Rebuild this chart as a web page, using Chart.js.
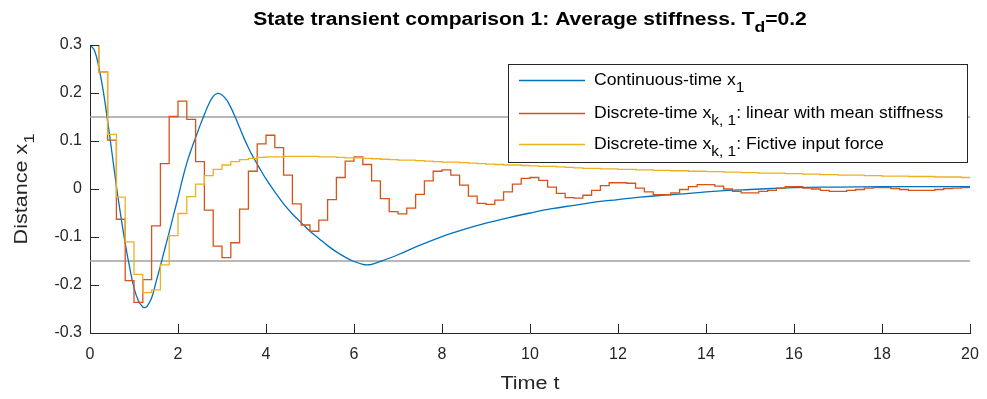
<!DOCTYPE html>
<html>
<head>
<meta charset="utf-8">
<script src="https://cdn.jsdelivr.net/npm/chart.js@4.4.0/dist/chart.umd.min.js"></script>
<style>
  html, body { margin: 0; padding: 0; background: #fff; overflow: hidden; }
  canvas { display: block; }
</style>
</head>
<body>
<canvas id="stateChart" width="987" height="399"></canvas>
<script>
// Sampling period of the discrete models
const Td = 0.2;

// Continuous-time response x1(t)
const contTime = [0, 0.1, 0.2, 0.3, 0.4, 0.5, 0.6, 0.7, 0.8, 0.9, 1.0, 1.1, 1.2, 1.25, 1.3, 1.4,
  1.5, 1.6, 1.7, 1.8, 1.9, 2.0, 2.1, 2.2, 2.3, 2.4, 2.5, 2.6, 2.7, 2.8, 2.9, 3.0, 3.1, 3.2, 3.3,
  3.4, 3.5, 3.6, 3.7, 3.8, 3.9, 4.0, 4.2, 4.4, 4.6, 4.8, 5.0, 5.2, 5.4, 5.6, 5.8, 6.0, 6.2, 6.3, 6.4, 6.6,
  7.0, 7.5, 8.0, 8.5, 9.0, 9.5, 10.0, 10.5, 11.0, 11.5, 12.0, 12.5, 13.0, 13.5, 14.0, 14.5, 15.0,
  15.5, 16.0, 17.0, 18.0, 19.0, 20.0];
const contX = [0.300, 0.289, 0.254, 0.205, 0.142, 0.075, 0.006, -0.056, -0.113, -0.163, -0.206,
  -0.233, -0.246, -0.247, -0.244, -0.227, -0.194, -0.160, -0.125, -0.090, -0.054, -0.018, 0.020,
  0.054, 0.082, 0.107, 0.132, 0.155, 0.177, 0.193, 0.199, 0.196, 0.186, 0.170, 0.150, 0.128,
  0.106, 0.086, 0.068, 0.052, 0.036, 0.021, -0.006, -0.031, -0.052, -0.070, -0.088, -0.103, -0.118, -0.131,
  -0.142, -0.151, -0.157, -0.158, -0.157, -0.151, -0.137, -0.117, -0.099, -0.084, -0.071, -0.060,
  -0.050, -0.041, -0.034, -0.027, -0.022, -0.017, -0.013, -0.010, -0.006, -0.003, -0.001, 0.001,
  0.003, 0.004, 0.005, 0.005, 0.005];

// Discrete-time x_{k,1}, linear model with mean stiffness (one value per sample k)
const meanStiffX = [0.300, 0.244, 0.102, -0.063, -0.191, -0.236, -0.189, -0.077, 0.053, 0.151,
  0.183, 0.145, 0.057, -0.044, -0.119, -0.143, -0.112, -0.042, 0.037, 0.094,
  0.112, 0.086, 0.029, -0.031, -0.075, -0.088, -0.065, -0.022, 0.024, 0.058,
  0.067, 0.051, 0.017, -0.020, -0.047, -0.052, -0.040, -0.011, 0.017, 0.037,
  0.040, 0.029, 0.008, -0.015, -0.030, -0.032, -0.023, -0.006, 0.010, 0.022,
  0.024, 0.018, 0.004, -0.009, -0.018, -0.019, -0.013, -0.003, 0.007, 0.013,
  0.013, 0.012, 0.002, -0.006, -0.012, -0.012, -0.008, -0.001, 0.005, 0.009,
  0.009, 0.006, 0.000, -0.005, -0.008, -0.008, -0.005, -0.003, 0.002, 0.005,
  0.005, 0.002, 0.000, -0.003, -0.005, -0.005, -0.003, -0.001, 0.002, 0.003,
  0.003, 0.001, -0.001, -0.003, -0.003, -0.003, -0.001, 0.001, 0.002, 0.003,
  0.003];

// Discrete-time x_{k,1}, fictive input force model
const fictiveX = [0.300, 0.244, 0.114, -0.017, -0.110, -0.178, -0.216, -0.210, -0.158, -0.097,
  -0.051, -0.016, 0.010, 0.028, 0.041, 0.050, 0.057, 0.061, 0.064, 0.066,
  0.067, 0.067, 0.068, 0.068, 0.068, 0.068, 0.067, 0.067, 0.066, 0.065,
  0.065, 0.064, 0.063, 0.062, 0.061, 0.060, 0.060, 0.059, 0.058, 0.057,
  0.056, 0.056, 0.055, 0.054, 0.053, 0.052, 0.051, 0.050, 0.050, 0.049,
  0.048, 0.047, 0.047, 0.046, 0.045, 0.044, 0.043, 0.043, 0.042, 0.042,
  0.041, 0.041, 0.040, 0.040, 0.039, 0.039, 0.038, 0.038, 0.037, 0.037,
  0.036, 0.036, 0.035, 0.035, 0.034, 0.034, 0.033, 0.033, 0.033, 0.032,
  0.032, 0.031, 0.031, 0.030, 0.030, 0.029, 0.029, 0.029, 0.028, 0.028,
  0.027, 0.027, 0.027, 0.026, 0.026, 0.026, 0.025, 0.025, 0.025, 0.024,
  0.024];

// Allowed band
const bandLevels = [0.15, -0.15];

const xTicks = [0, 2, 4, 6, 8, 10, 12, 14, 16, 18, 20];
const yTicks = [-0.3, -0.2, -0.1, 0, 0.1, 0.2, 0.3];

const FONT = "'Liberation Sans', Arial, Helvetica, sans-serif";
const AXIS_COLOR = '#262626';
const C_BLUE = '#0072BD';
const C_RED = '#D95319';
const C_YELLOW = '#EDB120';
const PLOT_RIGHT = 970;

function toPoints(times, values) {
  return values.map((v, i) => ({ x: times[i], y: v }));
}
const sampleTimes = meanStiffX.map((_, k) => +(k * Td).toFixed(1));

// draws text with optional subscripts, parts = [[text, isSub], ...]
// sx stretches the glyphs horizontally
function drawRich(ctx, parts, x, y, size, align, bold, sx) {
  const weight = bold ? 'bold ' : '';
  const subSize = Math.round(size * 0.85);
  let total = 0;
  parts.forEach(([t, sub]) => {
    ctx.font = weight + (sub ? subSize : size) + 'px ' + FONT;
    total += ctx.measureText(t).width;
  });
  ctx.save();
  ctx.translate(x, y);
  ctx.scale(sx, 1);
  let cx = align === 'center' ? -total / 2 : 0;
  ctx.textAlign = 'left';
  ctx.textBaseline = 'alphabetic';
  parts.forEach(([t, sub]) => {
    ctx.font = weight + (sub ? subSize : size) + 'px ' + FONT;
    ctx.fillText(t, cx, sub ? 7 : 0);
    cx += ctx.measureText(t).width;
  });
  ctx.restore();
}

const decorPlugin = {
  id: 'decor',
  // pin the right edge of the plot area
  afterLayout(chart) {
    const s = chart.scales.x;
    chart.chartArea.right = PLOT_RIGHT;
    chart.chartArea.width = PLOT_RIGHT - chart.chartArea.left;
    s.right = PLOT_RIGHT;
    s.width = PLOT_RIGHT - s.left;
    s.configure();
  },
  beforeDraw(chart) {
    const ctx = chart.ctx;
    ctx.save();
    ctx.fillStyle = '#fff';
    ctx.fillRect(0, 0, chart.width, chart.height);
    ctx.restore();
  },
  afterDraw(chart) {
    const { ctx, chartArea: a, scales } = chart;
    ctx.save();
    // inward tick marks
    ctx.strokeStyle = AXIS_COLOR;
    ctx.lineWidth = 1;
    ctx.beginPath();
    xTicks.forEach(v => {
      const px = Math.round(scales.x.getPixelForValue(v)) + 0.5;
      ctx.moveTo(px, a.bottom);
      ctx.lineTo(px, a.bottom - 9);
    });
    yTicks.forEach(v => {
      const py = Math.round(scales.y.getPixelForValue(v)) + 0.5;
      ctx.moveTo(a.left, py);
      ctx.lineTo(a.left + 9, py);
    });
    ctx.stroke();

    // title and axis labels
    ctx.fillStyle = '#000';
    drawRich(ctx, [['State transient comparison 1: Average stiffness. T', false], ['d', true], ['=0.2', false]],
      530, 25, 18, 'center', true, 1.17);
    ctx.fillStyle = AXIS_COLOR;
    drawRich(ctx, [['Time t', false]], 530, 389, 18, 'center', false, 1.2);
    ctx.save();
    ctx.translate(27, 189);
    ctx.rotate(-Math.PI / 2);
    drawRich(ctx, [['Distance x', false], ['1', true]], 0, 0, 18, 'center', false, 1.2);
    ctx.restore();

    // legend box
    const box = { l: 508.5, t: 64.5, r: 967.5, b: 162.5 };
    ctx.fillStyle = '#fff';
    ctx.fillRect(box.l, box.t, box.r - box.l, box.b - box.t);
    ctx.strokeStyle = AXIS_COLOR;
    ctx.lineWidth = 1;
    ctx.strokeRect(box.l, box.t, box.r - box.l, box.b - box.t);
    const rows = [
      { c: C_BLUE, y: 80, parts: [['Continuous-time x', false], ['1', true]] },
      { c: C_RED, y: 113, parts: [['Discrete-time x', false], ['k, 1', true], [': linear with mean stiffness', false]] },
      { c: C_YELLOW, y: 144, parts: [['Discrete-time x', false], ['k, 1', true], [': Fictive input force', false]] }
    ];
    rows.forEach(r => {
      ctx.strokeStyle = r.c;
      ctx.lineWidth = 1.3;
      ctx.beginPath();
      ctx.moveTo(519, r.y + 0.5);
      ctx.lineTo(585, r.y + 0.5);
      ctx.stroke();
      ctx.fillStyle = '#000';
      drawRich(ctx, r.parts, 594, r.y + 5, 16, 'left', false, 1.1);
    });
    ctx.restore();
  }
};

const ctx = document.getElementById('stateChart').getContext('2d');
new Chart(ctx, {
  type: 'line',
  data: {
    datasets: [
      {
        label: 'Discrete-time fictive input force',
        data: toPoints(sampleTimes, fictiveX),
        borderColor: C_YELLOW,
        borderWidth: 1.3,
        stepped: 'before',
        order: 1
      },
      {
        label: 'Discrete-time mean stiffness',
        data: toPoints(sampleTimes, meanStiffX),
        borderColor: C_RED,
        borderWidth: 1.3,
        stepped: 'before',
        order: 2
      },
      {
        label: 'Continuous-time',
        data: toPoints(contTime, contX),
        borderColor: C_BLUE,
        borderWidth: 1.3,
        tension: 0.4,
        order: 3
      },
      ...bandLevels.map(lv => ({
        label: 'band',
        data: [{ x: 0, y: lv }, { x: 20, y: lv }],
        borderColor: '#a0a0a0',
        borderWidth: 1.5,
        order: 4
      }))
    ]
  },
  options: {
    responsive: false,
    animation: false,
    devicePixelRatio: 1,
    layout: { autoPadding: false, padding: { left: 0, top: 45, right: 17, bottom: 0 } },
    elements: { point: { radius: 0 }, line: { fill: false } },
    plugins: { legend: { display: false }, tooltip: { enabled: false } },
    scales: {
      x: {
        type: 'linear',
        min: 0,
        max: 20,
        afterFit: s => { s.height = 66; },
        afterBuildTicks: s => { s.ticks = xTicks.map(v => ({ value: v })); },
        grid: { display: false, drawTicks: false },
        border: { display: true, color: AXIS_COLOR, width: 1 },
        ticks: { padding: 12, color: AXIS_COLOR, font: { family: FONT, size: 16 }, maxRotation: 0,
          callback: v => String(v) }
      },
      y: {
        min: -0.3,
        max: 0.3,
        afterFit: s => { s.width = 90; },
        afterBuildTicks: s => { s.ticks = yTicks.map(v => ({ value: v })); },
        grid: { display: false, drawTicks: false },
        border: { display: true, color: AXIS_COLOR, width: 1 },
        ticks: { padding: 8, color: AXIS_COLOR, font: { family: FONT, size: 16 },
          callback: v => String(Number(v.toFixed(1))) }
      }
    }
  },
  plugins: [decorPlugin]
});
</script>
</body>
</html>
